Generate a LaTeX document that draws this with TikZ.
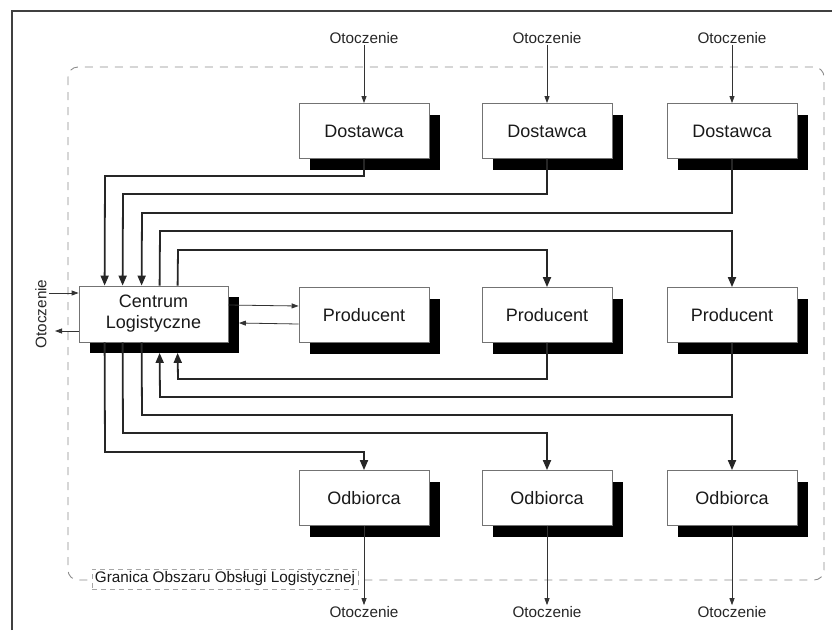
\documentclass[tikz,border=0pt]{standalone}
\usepackage{fontspec}
\setmainfont{Liberation Sans}
\usetikzlibrary{arrows.meta,shadows}
\begin{document}
\begin{tikzpicture}[x=1pt,y=-1pt,
  box/.style={draw=black!55, line width=0.8pt, fill=white, minimum width=130pt, minimum height=55pt, inner sep=0pt,
    font=\fontsize{18}{21}\selectfont, text=black!90, align=center,
    drop shadow={shadow xshift=11pt, shadow yshift=-11pt, fill=black, opacity=1}},
  env/.style={font=\fontsize{15.3}{17}\selectfont, text=black!85, inner sep=1pt},
  conn/.style={line width=1.8pt, draw=black!85, -{Triangle[length=10pt,width=8pt]}},
  thinarr/.style={line width=0.8pt, draw=black!80, -{Triangle[length=7pt,width=5pt]}},
  bound/.style={draw=black!45, line width=0.9pt, dash pattern=on 8pt off 7pt, rounded corners=10pt},
  lab/.style={font=\fontsize{15.3}{17}\selectfont, text=black!90, fill=white, draw=black!35, dash pattern=on 5pt off 4pt, line width=0.6pt, inner sep=3pt}
]
\useasboundingbox (0,0) rectangle (832,630);
% frame
\draw[line width=1.6pt, black!75] (12,630) -- (12,11) -- (832,11);
% boundary
\draw[bound] (68,67) rectangle (824,580);
\node[lab] (G) at (225,579) {Granica Obszaru Obsługi Logistycznej};

% boxes
\node[box, minimum width=149pt, minimum height=56pt] (C) at (153.5,314) {Centrum\\Logistyczne};
\node[box] (D1) at (364,131) {Dostawca};
\node[box] (D2) at (547,131) {Dostawca};
\node[box] (D3) at (732,131) {Dostawca};
\node[box] (P1) at (364,315) {Producent};
\node[box] (P2) at (547,315) {Producent};
\node[box] (P3) at (732,315) {Producent};
\node[box] (O1) at (364,498) {Odbiorca};
\node[box] (O2) at (547,498) {Odbiorca};
\node[box] (O3) at (732,498) {Odbiorca};

% environment labels
\node[env] (T1) at (364,38) {Otoczenie};
\node[env] (T2) at (547,38) {Otoczenie};
\node[env] (T3) at (732,38) {Otoczenie};
\node[env] (B1) at (364,612) {Otoczenie};
\node[env] (B2) at (547,612) {Otoczenie};
\node[env] (B3) at (732,612) {Otoczenie};
\node[env, rotate=90] (L) at (41,314) {Otoczenie};
\coordinate (Lin) at (49,293);
\coordinate (Lout) at (55,331);

\draw[thinarr] (T1.south) -- (D1.north);
\draw[thinarr] (T2.south) -- (D2.north);
\draw[thinarr] (T3.south) -- (D3.north);
\draw[thinarr] (O1.south) -- (B1.north);
\draw[thinarr] (O2.south) -- (B2.north);
\draw[thinarr] (O3.south) -- (B3.north);
\draw[thinarr] (Lin) -- (C.west |- Lin);
\draw[thinarr] (C.west |- Lout) -- (Lout);

% Centrum <-> Producent 1
\draw[thinarr] ([yshift=9]C.east) -- ([yshift=9]P1.west);
\draw[thinarr] ([yshift=-9]P1.west) -- ([xshift=10.5,yshift=-9]C.east);

% top connectors
\draw[conn] (D1.south) |- (105,176) -- ([xshift=26]C.north west);
\draw[conn] (D2.south) |- (123,194) -- ([xshift=44]C.north west);
\draw[conn] (D3.south) |- (142,213) -- ([xshift=63]C.north west);
\draw[conn] ([xshift=81]C.north west) -- (160,231) -| (P3.north);
\draw[conn] ([xshift=99]C.north west) -- (178,250) -| (P2.north);

% bottom connectors
\draw[conn] (P2.south) |- (178,379) -- ([xshift=99,yshift=-10.5]C.south west);
\draw[conn] (P3.south) |- (160,397) -- ([xshift=81,yshift=-10.5]C.south west);
\draw[conn] ([xshift=63]C.south west) -- (142,415) -| (O3.north);
\draw[conn] ([xshift=44]C.south west) -- (123,433) -| (O2.north);
\draw[conn] ([xshift=26]C.south west) -- (105,452) -| (O1.north);
\end{tikzpicture}
\end{document}
